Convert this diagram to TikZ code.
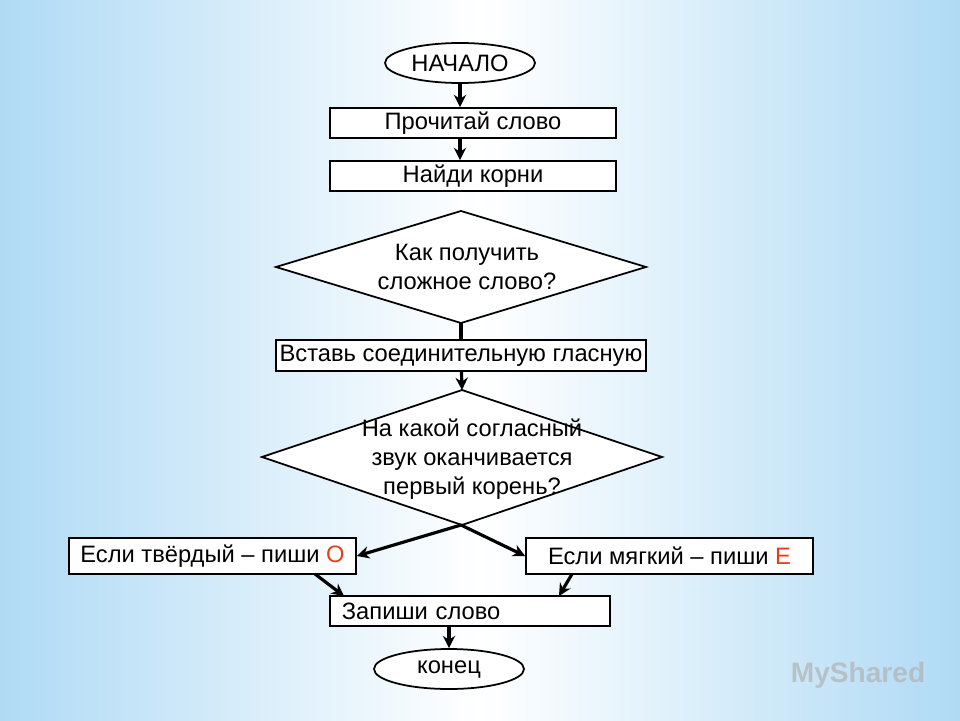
\documentclass[tikz,border=0pt]{standalone}
\usepackage{fontspec}
\setmainfont{Liberation Sans}
\usetikzlibrary{shapes.geometric,arrows.meta}
\definecolor{bgblue}{RGB}{175,218,245}
\definecolor{ored}{RGB}{230,60,30}
\tikzset{
  box/.style={draw,fill=white,line width=1pt,minimum height=30*0.02cm,inner sep=0pt,font=\fontsize{13.5}{16}\selectfont},
  oval/.style={ellipse,draw,fill=white,line width=1pt,minimum width=150*0.02cm,minimum height=40*0.02cm,inner sep=0pt,font=\fontsize{13.5}{16}\selectfont},
  txt/.style={align=center,font=\fontsize{13.5}{16.5}\selectfont},
  arr/.style={-{Stealth[length=7pt,width=7pt]},line width=1.8pt},
  ln/.style={line width=1.8pt}
}
\begin{document}
\begin{tikzpicture}[x=0.02cm,y=-0.02cm]
\useasboundingbox (0,0) rectangle (960,720);
\shade[left color=bgblue,right color=bgblue,middle color=white] (0,0) rectangle (960,720);
\node[oval] (start) at (460,63) {НАЧАЛО};
\node[box,minimum width=286*0.02cm] (read) at (473,123) {Прочитай слово};
\node[box,minimum width=286*0.02cm] (roots) at (473,176) {Найди корни};
\draw[fill=white,line width=1pt] (276,267) -- (461,211) -- (646,267) -- (461,323) -- cycle;
\node[txt] (d1) at (467,267) {Как получить\\сложное слово?};
\coordinate (d1b) at (461,323);
\node[box,minimum width=370*0.02cm,minimum height=31*0.02cm] (ins) at (461,355.5) {Вставь соединительную гласную};
\draw[fill=white,line width=1pt] (262,457) -- (462,390) -- (662,457) -- (462,525) -- cycle;
\node[txt] (d2) at (472,459) {На какой согласный\\звук оканчивается\\первый корень?};
\coordinate (d2t) at (462,390);
\coordinate (d2b) at (461,525);
\node[box,minimum width=287*0.02cm,minimum height=36*0.02cm] (hard) at (212.5,556) {Если твёрдый – пиши \textcolor{ored}{О}};
\node[box,minimum width=287*0.02cm,minimum height=36*0.02cm] (soft) at (669.5,556) {Если мягкий – пиши \textcolor{ored}{Е}};
\node[box,minimum width=280*0.02cm,anchor=west,text width=270*0.02cm,align=left] (write) at (329,611) {\hspace*{4pt}Запиши слово};
\node[oval] (end) at (449,669) {конец};
\draw[arr] (start.south) -- (start.south |- read.north);
\draw[arr] (read.south -| start) -- (roots.north -| start);
\draw[ln] (d1b) -- (ins.north -| d1b);
\draw[arr] (ins) -- (d2t);
\draw[arr] (d2b) -- (hard.east);
\draw[arr] (d2b) -- (soft.west);
\draw[arr] (315,574) -- (344,596);
\draw[arr] (572,574) -- (559,596);
\draw[arr] (write.south -| end) -- (end);
\node[font=\fontsize{16}{18}\selectfont\bfseries,text=gray!60,opacity=0.7] (wm) at (858,675) {MyShared};
\end{tikzpicture}
\end{document}
